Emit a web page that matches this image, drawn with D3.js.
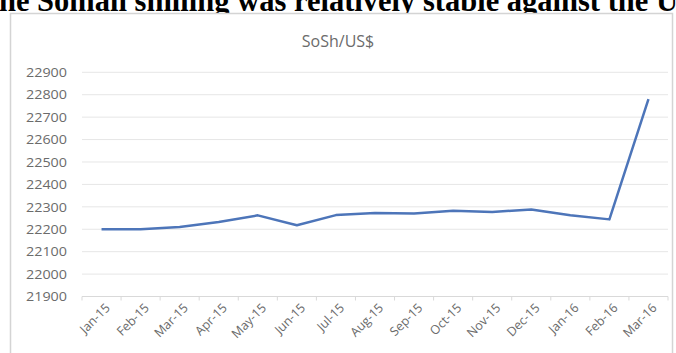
<!DOCTYPE html>
<html>
<head>
<meta charset="utf-8">
<script src="https://cdn.jsdelivr.net/npm/d3@7"></script>
<style>
  html, body { margin: 0; padding: 0; background: #fff; overflow: hidden; }
  svg { display: block; }
</style>
</head>
<body>
<svg id="chart" width="676" height="353"></svg>
<script>
// Monthly Somali shilling rate per US dollar
const months = ["Jan-15","Feb-15","Mar-15","Apr-15","May-15","Jun-15","Jul-15","Aug-15",
                "Sep-15","Oct-15","Nov-15","Dec-15","Jan-16","Feb-16","Mar-16"];
const rates = [22200, 22200, 22210, 22232, 22262, 22218, 22263, 22272,
               22270, 22282, 22277, 22288, 22262, 22244, 22780];
const yTicks = [21900, 22000, 22100, 22200, 22300, 22400, 22500, 22600, 22700, 22800, 22900];
const headline = "The Somali shilling was relatively stable against the US dollar";
const chartTitle = "SoSh/US$";

const svg = d3.select("#chart");
const W = 676, H = 353;
const plot = { left: 82, right: 668, top: 72.3, bottom: 296.5 };
const headSize = 30.5;

// Headline sentence above the chart frame
const head = svg.append("text")
  .attr("y", 11)
  .attr("font-family", "Liberation Serif, 'Times New Roman', serif")
  .attr("font-weight", "bold")
  .attr("font-size", headSize)
  .attr("fill", "#000")
  .text(headline);
// shift so the sentence starts just left of the frame
const tmp = svg.append("text").attr("font-family", "Liberation Serif, serif")
  .attr("font-weight", "bold").attr("font-size", headSize).text("T");
const tW = tmp.node().getComputedTextLength();
tmp.remove();
head.attr("x", -tW - 1);

// Chart frame
svg.append("rect")
  .attr("x", 10.5).attr("y", 13.5)
  .attr("width", W - 14).attr("height", H)
  .attr("fill", "#fff")
  .attr("stroke", "#d4d4d4")
  .attr("stroke-width", 1.5);

const x = d3.scaleBand().domain(months).range([plot.left, plot.right]);
const xc = d => x(d) + x.bandwidth() / 2;
const y = d3.scaleLinear().domain([21900, 22900]).range([plot.bottom, plot.top]);

// Gridlines
svg.append("g")
  .selectAll("line")
  .data(yTicks.slice(1))
  .join("line")
  .attr("x1", plot.left).attr("x2", plot.right)
  .attr("y1", d => y(d)).attr("y2", d => y(d))
  .attr("stroke", "#e6e6e6").attr("stroke-width", 1);

// Y axis labels
const yAxis = d3.axisLeft(y).tickValues(yTicks).tickSize(0).tickPadding(0)
  .tickFormat(d3.format("d"));
const yg = svg.append("g").attr("transform", `translate(${plot.left - 15},0)`).call(yAxis);
yg.select(".domain").remove();
yg.selectAll("text")
  .attr("font-family", "'Open Sans', sans-serif")
  .attr("font-size", 12)
  .attr("fill", "#6b6b6b")
  .attr("textLength", 41)
  .attr("lengthAdjust", "spacingAndGlyphs")
  .attr("dy", "0.35em");

// Category axis with tick marks between categories
const xg = svg.append("g").attr("transform", `translate(0,${plot.bottom})`);
xg.append("line")
  .attr("x1", plot.left).attr("x2", plot.right)
  .attr("stroke", "#d9d9d9").attr("stroke-width", 1);
const bounds = months.map(m => x(m)).concat([plot.right]);
xg.selectAll("line.tick")
  .data(bounds)
  .join("line")
  .attr("class", "tick")
  .attr("x1", d => d).attr("x2", d => d)
  .attr("y1", 0).attr("y2", 4)
  .attr("stroke", "#d9d9d9");
xg.selectAll("text")
  .data(months)
  .join("text")
  .attr("transform", d => `translate(${xc(d) + 3},${6}) rotate(-45)`)
  .attr("text-anchor", "end")
  .attr("dy", "0.7em")
  .attr("font-family", "'Open Sans', sans-serif")
  .attr("font-size", 12.5)
  .attr("fill", "#6b6b6b")
  .text(d => d);

// Chart title
svg.append("text")
  .attr("x", 338).attr("y", 47)
  .attr("text-anchor", "middle")
  .attr("font-family", "'Open Sans', sans-serif")
  .attr("font-size", 16)
  .attr("fill", "#6b6b6b")
  .text(chartTitle);

// Rate line
const line = d3.line()
  .x((d, i) => xc(months[i]))
  .y(d => y(d));
svg.append("path")
  .datum(rates)
  .attr("d", line)
  .attr("fill", "none")
  .attr("stroke", "#4d75b9")
  .attr("stroke-width", 2.5)
  .attr("stroke-linejoin", "round");
</script>
</body>
</html>
